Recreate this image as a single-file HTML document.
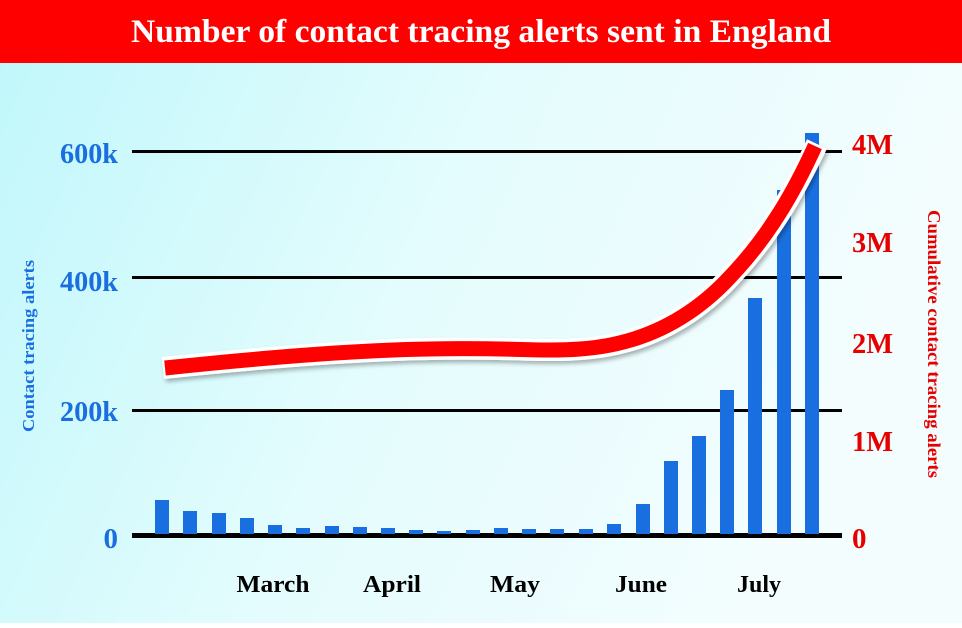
<!DOCTYPE html>
<html><head><meta charset="utf-8"><style>
body{margin:0;width:962px;height:623px;overflow:hidden}
</style></head><body>
<svg width="962" height="623" xmlns="http://www.w3.org/2000/svg">
<defs>
<linearGradient id="bg" x1="0" y1="0" x2="1" y2="0.3">
<stop offset="0" stop-color="#bff7fb"/><stop offset="0.5" stop-color="#e3fcfd"/><stop offset="1" stop-color="#f4fdfe"/>
</linearGradient>
<filter id="sh" x="-10%" y="-10%" width="120%" height="130%"><feDropShadow dx="2" dy="3" stdDeviation="2" flood-opacity="0.3"/></filter>
</defs>
<rect width="962" height="623" fill="url(#bg)"/>
<rect width="962" height="63" fill="#fe0000"/>
<text x="481" y="42" text-anchor="middle" fill="#fff" font-family="Liberation Serif, serif" font-weight="bold" font-size="33" textLength="700" lengthAdjust="spacingAndGlyphs">Number of contact tracing alerts sent in England</text>
<g stroke="#000">
<line x1="132" y1="151.5" x2="842" y2="151.5" stroke-width="3"/>
<line x1="132" y1="277.5" x2="842" y2="277.5" stroke-width="3"/>
<line x1="132" y1="410.5" x2="842" y2="410.5" stroke-width="3"/>
<line x1="132" y1="535.5" x2="842" y2="535.5" stroke-width="5"/>
</g>
<g fill="#1a6fe0">
<rect x="155" y="500" width="14" height="34"/>
<rect x="183" y="511" width="14" height="23"/>
<rect x="212" y="513" width="14" height="21"/>
<rect x="240" y="518" width="14" height="16"/>
<rect x="268" y="525" width="14" height="9"/>
<rect x="296" y="528" width="14" height="6"/>
<rect x="325" y="526" width="14" height="8"/>
<rect x="353" y="527" width="14" height="7"/>
<rect x="381" y="528" width="14" height="6"/>
<rect x="409" y="530" width="14" height="4"/>
<rect x="437" y="531" width="14" height="3"/>
<rect x="466" y="530" width="14" height="4"/>
<rect x="494" y="528" width="14" height="6"/>
<rect x="522" y="529" width="14" height="5"/>
<rect x="550" y="529" width="14" height="5"/>
<rect x="579" y="529" width="14" height="5"/>
<rect x="607" y="524" width="14" height="10"/>
<rect x="636" y="504" width="14" height="30"/>
<rect x="664" y="461" width="14" height="73"/>
<rect x="692" y="436" width="14" height="98"/>
<rect x="720" y="390" width="14" height="144"/>
<rect x="748" y="298" width="14" height="236"/>
<rect x="777" y="190" width="14" height="344"/>
<rect x="805" y="133" width="14" height="401"/>
</g>
<g filter="url(#sh)" fill="none" stroke-linecap="butt">
<path d="M163,368 C260,358 360,350 430,349 C500,347 540,352 580,349 C640,345 690,320 730,277 C770,235 795,190 817,144" stroke="#fff" stroke-width="22"/>
<path d="M165,368 C260,358 360,350 430,349 C500,347 540,352 580,349 C640,345 690,320 730,277 C770,235 795,190 815,146" stroke="#f00" stroke-width="15"/>
</g>
<g fill="#1a6fe0" font-family="Liberation Serif, serif" font-weight="bold" font-size="29" text-anchor="end">
<text x="118" y="163" textLength="58" lengthAdjust="spacingAndGlyphs">600k</text>
<text x="118" y="291" textLength="58" lengthAdjust="spacingAndGlyphs">400k</text>
<text x="118" y="421" textLength="58" lengthAdjust="spacingAndGlyphs">200k</text>
<text x="118" y="548">0</text>
</g>
<text transform="translate(34,346) rotate(-90)" text-anchor="middle" fill="#1a6fe0" font-family="Liberation Serif, serif" font-weight="bold" font-size="17" textLength="172" lengthAdjust="spacingAndGlyphs">Contact tracing alerts</text>
<g fill="#e60000" font-family="Liberation Serif, serif" font-weight="bold" font-size="29">
<text x="852" y="154" textLength="41" lengthAdjust="spacingAndGlyphs">4M</text>
<text x="852" y="252" textLength="41" lengthAdjust="spacingAndGlyphs">3M</text>
<text x="852" y="353" textLength="41" lengthAdjust="spacingAndGlyphs">2M</text>
<text x="852" y="451" textLength="41" lengthAdjust="spacingAndGlyphs">1M</text>
<text x="852" y="548">0</text>
</g>
<text transform="translate(928,344) rotate(90)" text-anchor="middle" fill="#e60000" font-family="Liberation Serif, serif" font-weight="bold" font-size="18" textLength="268" lengthAdjust="spacingAndGlyphs">Cumulative contact tracing alerts</text>
<g fill="#000" font-family="Liberation Serif, serif" font-weight="bold" font-size="24" text-anchor="middle">
<text x="273" y="592" textLength="73" lengthAdjust="spacingAndGlyphs">March</text>
<text x="392" y="592" textLength="58" lengthAdjust="spacingAndGlyphs">April</text>
<text x="515" y="592" textLength="50" lengthAdjust="spacingAndGlyphs">May</text>
<text x="641" y="592" textLength="52" lengthAdjust="spacingAndGlyphs">June</text>
<text x="759" y="592" textLength="44" lengthAdjust="spacingAndGlyphs">July</text>
</g>
</svg>
</body></html>
